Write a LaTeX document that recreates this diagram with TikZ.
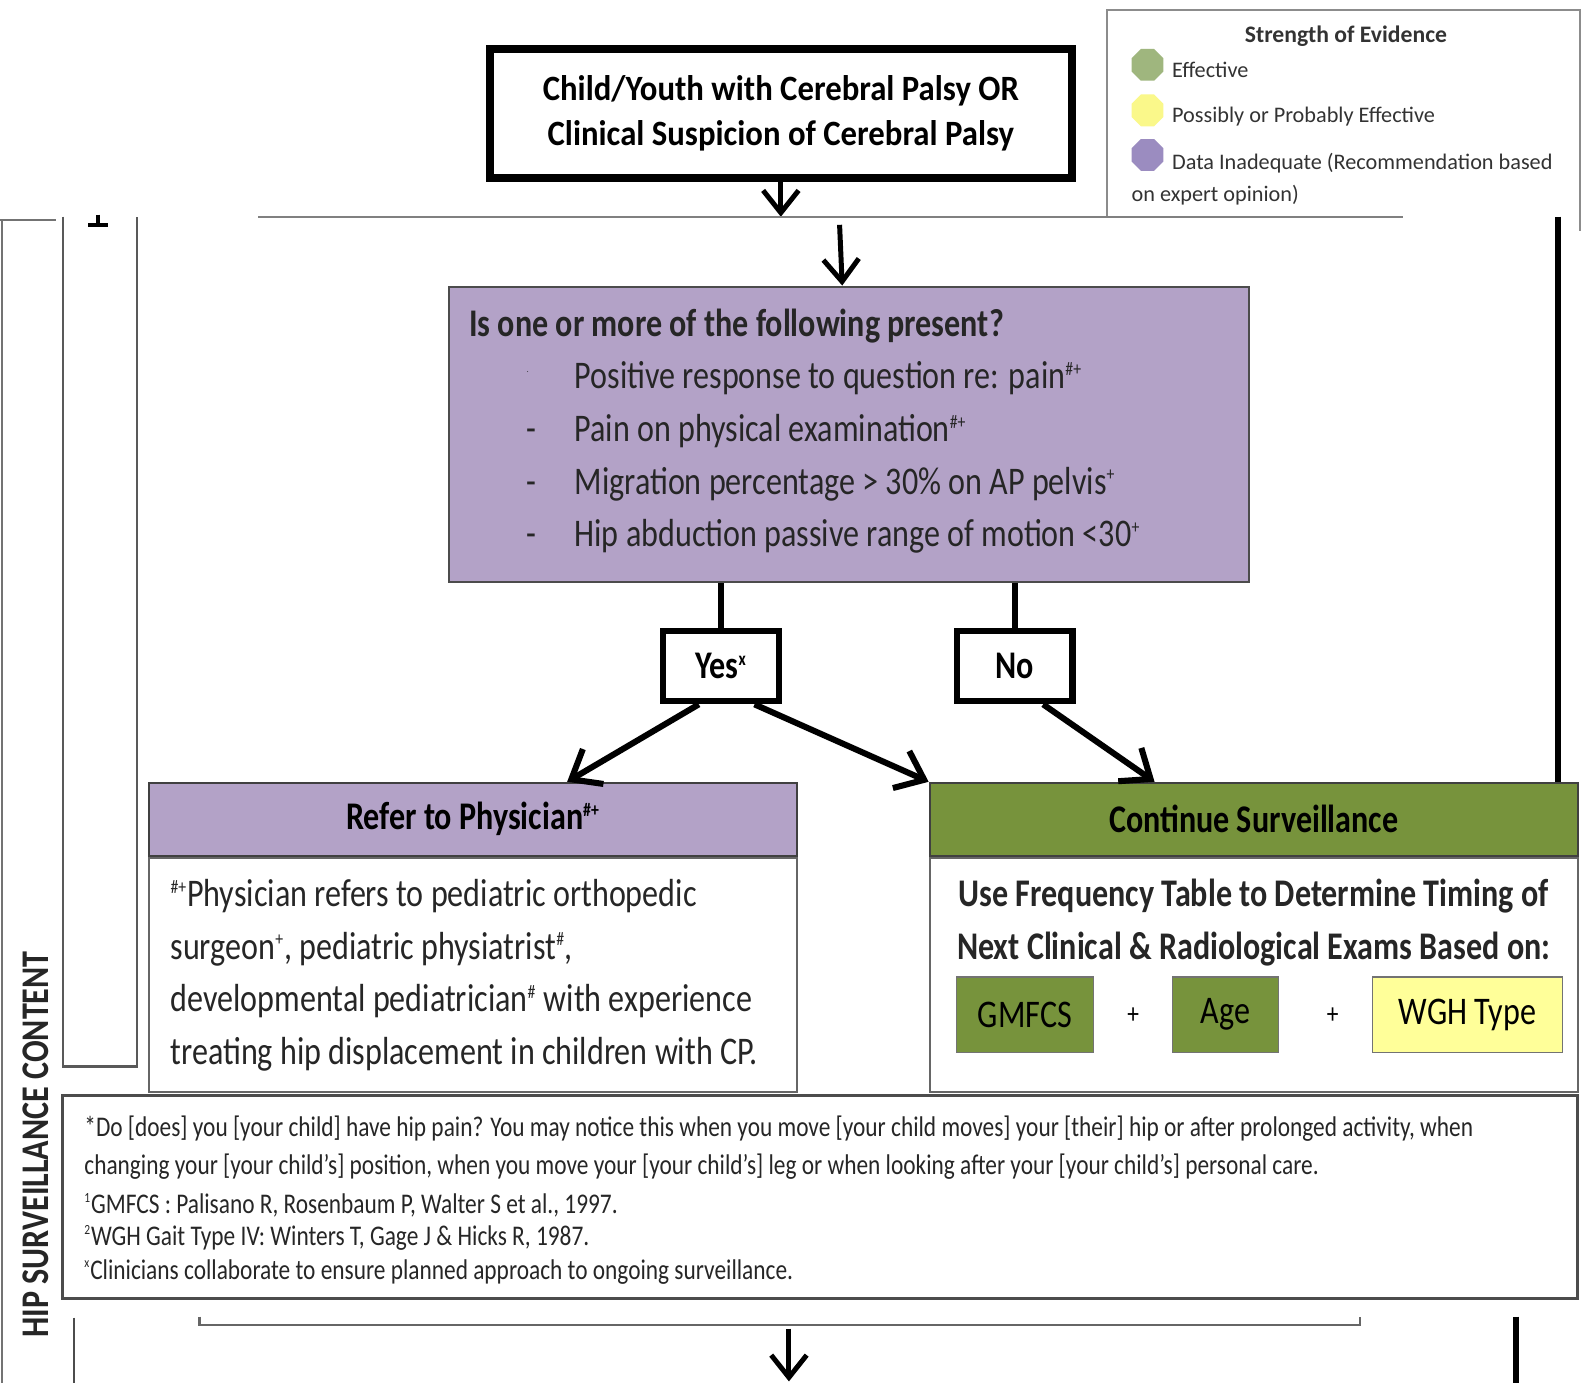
\documentclass[tikz,border=0pt]{standalone}
\usepackage{fontspec}
\setmainfont{Carlito}
\newfontfamily\slimfont[FakeStretch=0.82]{Carlito}
\newfontfamily\midfont[FakeStretch=0.92]{Carlito}
\usetikzlibrary{positioning,shapes.geometric,arrows.meta}
\definecolor{askpurple}{HTML}{B3A2C7}
\definecolor{goodgreen}{HTML}{77933C}
\definecolor{maybeyellow}{HTML}{FFFF99}
\definecolor{keygreen}{HTML}{9FB67E}
\definecolor{keyyellow}{HTML}{FAF88A}
\definecolor{keypurple}{HTML}{9B8CC0}
\newcommand{\supmark}[1]{\textsuperscript{\scalebox{0.7}{#1}}}

\begin{document}
\begin{tikzpicture}[
    x=0.2mm, y=-0.2mm,
    startnode/.style={
        draw=black, line width=4.5pt, minimum width=115mm, minimum height=25.4mm,
        align=center, font=\midfont\bfseries\fontsize{20}{25.6}\selectfont
      },
    asknode/.style={
        draw=black!70, fill=askpurple, line width=1.2pt, minimum width=158mm, minimum height=58.4mm
      },
    answernode/.style={
        draw=black, line width=3.4pt, minimum width=22.8mm, minimum height=13.8mm,
        font=\slimfont\bfseries\fontsize{22}{26}\selectfont
      },
    headnode/.style={
        draw=black!75, line width=1.2pt, minimum width=128mm, minimum height=14.4mm,
        font=\slimfont\bfseries\fontsize{22}{26}\selectfont
      },
    bodynode/.style={
        draw=black!60, line width=1.2pt, minimum width=128mm, minimum height=46.2mm
      },
    factornode/.style={
        draw=black!55, line width=0.8pt, minimum height=15mm, font=\slimfont\fontsize{22}{26}\selectfont
      },
    keynode/.style={
        regular polygon, regular polygon sides=8, minimum size=6.8mm, inner sep=0pt
      },
    keytext/.style={
        anchor=base west, inner sep=0pt, text=black!80, font=\fontsize{12.5}{15}\selectfont
      },
    asktext/.style={
        anchor=base west, inner sep=0pt, text=black!85, font=\slimfont\fontsize{22}{26}\selectfont
      },
    notetext/.style={
        anchor=base west, inner sep=0pt, text=black!85, font=\slimfont\fontsize{16}{19}\selectfont
      },
    flow/.style={line width=3.4pt, -{Straight Barb[length=5mm, width=8mm]}},
    thinflow/.style={line width=2.8pt, -{Straight Barb[length=4.4mm, width=7mm]}},
    rule/.style={draw=black!55, line width=1.2pt},
  ]
  \path[fill=white] (0,0) rectangle (1568,1366);
  \useasboundingbox (0,0) rectangle (1568,1366);

  % strength of evidence key
  \draw[rule, draw=black!45] (1093,213) -- (1093,10) -- (1560,10) -- (1560,228);
  \node[font=\bfseries\fontsize{13.3}{15}\selectfont, text=black!80] (keytitle) at (1329,36) {Strength of Evidence};
  \node[keynode, fill=keygreen] (keyA) at (1133,64) {};
  \node[keynode, fill=keyyellow] (keyB) at (1133,109) {};
  \node[keynode, fill=keypurple] (keyC) at (1133,153) {};
  \node[keytext] (keyAtext) at (1157,77) {Effective};
  \node[keytext] (keyBtext) at (1157,121) {Possibly or Probably Effective};
  \node[keytext] (keyCtext) at (1157,167) {Data Inadequate (Recommendation based};
  \node[keytext] (keyCmore) at (1117,199) {on expert opinion)};

  \node[startnode] (topbox) at (771,112) {Child/Youth with Cerebral Palsy OR\\Clinical Suspicion of Cerebral Palsy};
  \coordinate (cut) at (771,214);
  \path[thinflow] (topbox) edge (cut);

  % cut lines of the page
  \draw[rule, draw=black!50] (255,214) -- (1385,214);
  \draw[rule] (0,217) -- (55,217);
  \draw[rule] (2,217) -- (2,1366);
  \draw[rule, draw=black!65] (62,214) -- (62,1053) -- (135,1053) -- (135,214);
  \draw[line width=2pt] (97,212) -- (97,222);
  \draw[line width=2.5pt] (87,222) -- (107,222);

  \node[asknode] (question) at (838,429) {};
  \coordinate (askin) at (829,222);
  \path[thinflow] (askin) edge (question);
  \node[asktext, font=\slimfont\bfseries\fontsize{22}{26}\selectfont] (asktitle) at (463,332) {Is one or more of the following present?};
  \foreach \y/\bul/\txt in {
      384/{\raisebox{0.9ex}{\tiny.}}/{Positive response to question re: pain\supmark{\#+}},
      436/-/{Pain on physical examination\supmark{\#+}},
      488/-/{Migration percentage > 30\% on AP pelvis\supmark{+}},
      540/-/{Hip abduction passive range of motion <30\supmark{+}}
    }{
      \node[asktext] (bul\y) at (520,\y) {\bul};
      \node[asktext] (item\y) at (567,\y) {\txt};
    }

  \node[answernode] (yesbox) at (712,658) {Yes\supmark{x}};
  \node[answernode] (nobox) at (1002,658) {No};
  \draw[line width=3.4pt] (yesbox.north |- question.south) -- (yesbox.north);
  \draw[line width=3.4pt] (nobox.north |- question.south) -- (nobox.north);

  \node[headnode, fill=askpurple] (refhead) at (467,809) {Refer to Physician\supmark{\#+}};
  \node[bodynode, below=0pt of refhead] (refbody) {};
  \foreach \y/\txt in {
      895/{\supmark{\#+}Physician refers to pediatric orthopedic},
      947/{surgeon\supmark{+}, pediatric physiatrist\supmark{\#},},
      999/{developmental pediatrician\supmark{\#} with experience},
      1051/{treating hip displacement in children with CP.}
    }{
      \node[asktext] (ref\y) at (168,\y) {\txt};
    }

  \node[headnode, fill=goodgreen] (conthead) at (1238,809) {Continue Surveillance};
  \node[bodynode, below=0pt of conthead] (contbody) {};
  \node[align=center, text=black!85, font=\slimfont\bfseries\fontsize{22}{29.6}\selectfont] (conttext) at (1238,911)
    {Use Frequency Table to Determine Timing of\\Next Clinical \& Radiological Exams Based on:};
  \node[factornode, fill=goodgreen, minimum width=27mm] (gmfcs) at (1012,1002) {GMFCS};
  \node[factornode, fill=goodgreen, minimum width=21mm] (age) at (1210,1002) {Age};
  \node[factornode, fill=maybeyellow, minimum width=37.6mm] (wgh) at (1449,1002) {WGH Type};
  \node[font=\slimfont\fontsize{16}{19}\selectfont] (plusA) at (1119,1003) {+};
  \node[font=\slimfont\fontsize{16}{19}\selectfont] (plusB) at (1316,1003) {+};

  \path[flow]
    ([xshift=-4.4mm]yesbox.south) edge ([xshift=18.6mm]refhead.north)
    ([xshift=6.6mm]yesbox.south) edge (conthead.north west)
    ([xshift=5.6mm]nobox.south) edge ([xshift=-19.6mm]conthead.north)
  ;
  \coordinate (rtop) at (1538,214);
  \draw[line width=3.4pt] (rtop) -- (rtop |- conthead.north);

  \node[draw=black!70, line width=1.6pt, minimum width=299.2mm, minimum height=40mm] (notes) at (810,1182) {};
  \foreach \y/\txt in {
      1122/{*Do [does] you [your child] have hip pain? You may notice this when you move [your child moves] your [their] hip or after prolonged activity, when},
      1160/{changing your [your child’s] position, when you move your [your child’s] leg or when looking after your [your child’s] personal care.},
      1198/{\supmark{1}GMFCS : Palisano R, Rosenbaum P, Walter S et al., 1997.},
      1230/{\supmark{2}WGH Gait Type IV: Winters T, Gage J \& Hicks R, 1987.},
      1263/{\supmark{x}Clinicians collaborate to ensure planned approach to ongoing surveillance.}
    }{
      \node[notetext] (note\y) at (83,\y) {\txt};
    }

  \node[rotate=90, text=black!85, font=\slimfont\bfseries\fontsize{22}{24}\selectfont] (sidelabel) at (35,1130) {HIP SURVEILLANCE CONTENT};

  % bottom of the page
  \draw[rule, draw=black!60] (197,1300) -- (197,1308) -- (1343,1308) -- (1343,1300);
  \coordinate (nextin) at (779,1312);
  \coordinate (nextout) at (779,1364);
  \path[thinflow] (nextin) edge (nextout);
  \draw[line width=3.4pt] (1497,1300) -- (1497,1366);
  \draw[rule, draw=black!70] (73,1301) -- (73,1366);
\end{tikzpicture}
\end{document}
